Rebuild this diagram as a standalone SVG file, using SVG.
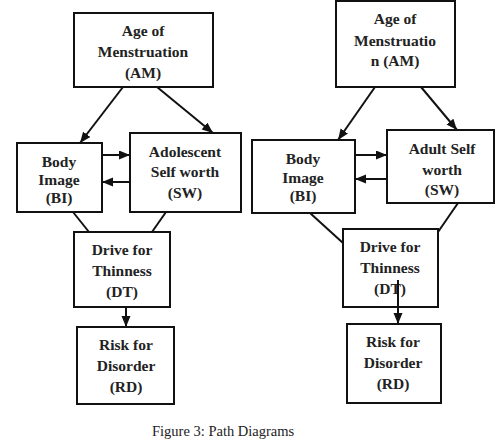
<svg xmlns="http://www.w3.org/2000/svg" width="495" height="440" viewBox="0 0 495 440">
<style>
.box{fill:#fff;stroke:#111;stroke-width:2}
.t{font-family:'Liberation Serif','Times New Roman',Times,serif;font-weight:bold;font-size:15.5px;fill:#222;text-anchor:middle}
.c{stroke:#111;stroke-width:2;fill:none}
.cap{font-family:'Liberation Serif','Times New Roman',Times,serif;font-size:14.5px;fill:#222}
</style>
<defs>
<marker id="ah" markerUnits="userSpaceOnUse" markerWidth="12" markerHeight="10" refX="11" refY="4.5" orient="auto">
<path d="M0,0 L11,4.5 L0,9 z" fill="#111"/>
</marker>
</defs>
<rect width="495" height="440" fill="#fff"/>
<g id="connectors">
<line class="c" x1="123" y1="87" x2="80" y2="143" marker-end="url(#ah)"/>
<line class="c" x1="157" y1="87" x2="213" y2="133" marker-end="url(#ah)"/>
<line class="c" x1="102" y1="155" x2="130" y2="155" marker-end="url(#ah)"/>
<line class="c" x1="130" y1="182" x2="102" y2="182" marker-end="url(#ah)"/>
<line class="c" x1="73" y1="212" x2="89" y2="232"/>
<line class="c" x1="166" y1="212" x2="152" y2="232"/>
<line class="c" x1="126" y1="307" x2="126" y2="327" marker-end="url(#ah)"/>
<line class="c" x1="375" y1="87" x2="338" y2="140" marker-end="url(#ah)"/>
<line class="c" x1="421" y1="87" x2="457" y2="130" marker-end="url(#ah)"/>
<line class="c" x1="355" y1="155" x2="387" y2="155" marker-end="url(#ah)"/>
<line class="c" x1="387" y1="179" x2="355" y2="179" marker-end="url(#ah)"/>
<line class="c" x1="310" y1="213" x2="343" y2="243"/>
<line class="c" x1="458" y1="203" x2="438" y2="232"/>
</g>
<g id="L_AM"><rect class="box" x="74" y="13" width="139" height="74"/>
<text class="t" x="143" y="36">Age of</text><text class="t" x="143" y="57">Menstruation</text><text class="t" x="143" y="78">(AM)</text></g>
<g id="L_BI"><rect class="box" x="17" y="143" width="85" height="69"/>
<text class="t" x="59" y="167">Body</text><text class="t" x="59" y="185">Image</text><text class="t" x="59" y="203">(BI)</text></g>
<g id="L_SW"><rect class="box" x="130" y="133" width="111" height="79"/>
<text class="t" x="185" y="157">Adolescent</text><text class="t" x="185" y="177">Self worth</text><text class="t" x="185" y="198">(SW)</text></g>
<g id="L_DT"><rect class="box" x="74" y="232" width="96" height="75"/>
<text class="t" x="122" y="255">Drive for</text><text class="t" x="122" y="276">Thinness</text><text class="t" x="122" y="297">(DT)</text></g>
<g id="L_RD"><rect class="box" x="77" y="327" width="97" height="77"/>
<text class="t" x="126" y="350">Risk for</text><text class="t" x="126" y="371">Disorder</text><text class="t" x="126" y="392">(RD)</text></g>
<g id="R_AM"><rect class="box" x="336" y="1" width="119" height="86"/>
<text class="t" x="395" y="24">Age of</text><text class="t" x="395" y="46">Menstruatio</text><text class="t" x="395" y="66">n (AM)</text></g>
<g id="R_BI"><rect class="box" x="252" y="140" width="103" height="73"/>
<text class="t" x="303" y="164">Body</text><text class="t" x="303" y="183">Image</text><text class="t" x="303" y="201">(BI)</text></g>
<g id="R_SW"><rect class="box" x="387" y="130" width="107" height="73"/>
<text class="t" x="442" y="154">Adult Self</text><text class="t" x="442" y="175">worth</text><text class="t" x="442" y="195">(SW)</text></g>
<g id="R_DT"><rect class="box" x="343" y="229" width="95" height="78"/>
<text class="t" x="390" y="252">Drive for</text><text class="t" x="390" y="273">Thinness</text><text class="t" x="390" y="294">(DT)</text></g>
<g id="R_RD"><rect class="box" x="347" y="324" width="94" height="79"/>
<text class="t" x="393" y="347">Risk for</text><text class="t" x="393" y="368">Disorder</text><text class="t" x="393" y="389">(RD)</text></g>
<g id="R_DT_RD"><line class="c" x1="398" y1="280" x2="398" y2="324" marker-end="url(#ah)"/></g>
<text class="cap" x="152" y="436">Figure 3: Path Diagrams</text>
</svg>
